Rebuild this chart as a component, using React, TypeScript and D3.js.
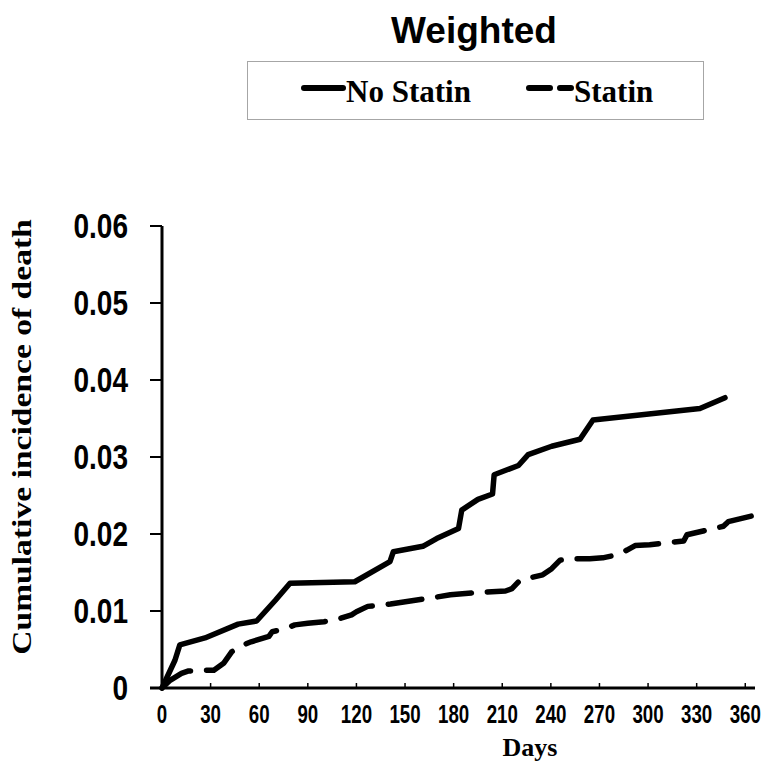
import React from "react";
import * as d3 from "d3";

const noStatinDays = [0, 8, 11, 26.5, 47, 58.4, 70, 79, 119, 140.7, 142.8, 161, 169.5, 183, 185, 195, 204, 205, 220, 226, 240.5, 258, 266, 332, 347.5];
const noStatinValues = [0, 0.0036, 0.0056, 0.0065, 0.0083, 0.0087, 0.0114, 0.0136, 0.0138, 0.0164, 0.0177, 0.0184, 0.0194, 0.0207, 0.0231, 0.0245, 0.0252, 0.0277, 0.0289, 0.0303, 0.0314, 0.0323, 0.0348, 0.0363, 0.0377];

const statinDays = [0, 5, 12, 16, 24, 32, 38, 43, 48, 55, 66, 68, 76, 82, 90, 100, 108, 117, 120, 127, 141, 163, 178, 194, 212, 216, 221, 235, 240.5, 245.7, 252, 264, 272, 278.6, 287, 292, 301, 309, 322, 324, 346.5, 349.5, 365];
const statinValues = [0, 0.001, 0.0019, 0.0022, 0.0023, 0.0023, 0.0032, 0.0047, 0.0054, 0.006, 0.0067, 0.0073, 0.0077, 0.0082, 0.0084, 0.0086, 0.0089, 0.0095, 0.0099, 0.0106, 0.0109, 0.0116, 0.0121, 0.0124, 0.0126, 0.0129, 0.014, 0.0147, 0.0155, 0.0166, 0.0168, 0.0168, 0.0169, 0.0172, 0.0179, 0.0185, 0.0186, 0.0188, 0.0191, 0.0199, 0.021, 0.0216, 0.0224];

const xTicks = [0, 30, 60, 90, 120, 150, 180, 210, 240, 270, 300, 330, 360];
const yTicks = [0, 0.01, 0.02, 0.03, 0.04, 0.05, 0.06];
const yTickLabels = ["0", "0.01", "0.02", "0.03", "0.04", "0.05", "0.06"];

const seriesNames = ["No Statin", "Statin"];
const title = "Weighted";
const xTitle = "Days";
const yTitle = "Cumulative incidence of death";

export default function App() {
  const x = d3.scaleLinear().domain([0, 366]).range([162, 755]);
  const y = d3.scaleLinear().domain([0, 0.06]).range([688, 226]);
  const line = d3
    .line<[number, number]>()
    .x((d) => x(d[0]))
    .y((d) => y(d[1]));
  const noStatin = noStatinDays.map((d, i) => [d, noStatinValues[i]] as [number, number]);
  const statin = statinDays.map((d, i) => [d, statinValues[i]] as [number, number]);
  const sans = "'Liberation Sans', Arial, sans-serif";
  const serif = "'Liberation Serif', 'Times New Roman', serif";

  return (
    <svg width={763} height={765} style={{ position: "absolute", left: 0, top: 0, background: "#fff" }}>
      <rect x={0} y={0} width={763} height={765} fill="#fff" />
      <text x={474} y={43} textAnchor="middle" fontFamily={sans} fontWeight="bold" fontSize={37}>
        {title}
      </text>
      <rect x={247.5} y={61.5} width={456} height={58} fill="#fff" stroke="#a6a6a6" strokeWidth={1} />
      <line x1={304} x2={343} y1={88} y2={88} stroke="#000" strokeWidth={6} strokeLinecap="round" />
      <text x={346} y={102} fontFamily={serif} fontWeight="bold" fontSize={31}>
        {seriesNames[0]}
      </text>
      <line x1={529} x2={571} y1={88} y2={88} stroke="#000" strokeWidth={6} strokeLinecap="round" strokeDasharray="21,10" />
      <text x={574} y={102} fontFamily={serif} fontWeight="bold" fontSize={31}>
        {seriesNames[1]}
      </text>

      {/* axes */}
      <line x1={162} x2={162} y1={226} y2={689.5} stroke="#000" strokeWidth={3} />
      <line x1={150} x2={755} y1={688} y2={688} stroke="#000" strokeWidth={3} />
      {yTicks.map((t, i) => (
        <g key={t}>
          <line x1={150} x2={162} y1={y(t)} y2={y(t)} stroke="#000" strokeWidth={2} />
          <text
            transform={`translate(128,${y(t) + 12}) scale(0.8,1)`}
            textAnchor="end"
            fontFamily={sans}
            fontWeight="bold"
            fontSize={35}
          >
            {yTickLabels[i]}
          </text>
        </g>
      ))}
      {xTicks.map((t) => (
        <g key={t}>
          {t > 0 && <line x1={x(t)} x2={x(t)} y1={688} y2={683} stroke="#000" strokeWidth={1.5} />}
          <text
            transform={`translate(${x(t)},723) scale(0.72,1)`}
            textAnchor="middle"
            fontFamily={sans}
            fontWeight="bold"
            fontSize={26}
          >
            {t}
          </text>
        </g>
      ))}
      <text x={530} y={756} textAnchor="middle" fontFamily={serif} fontWeight="bold" fontSize={26}>
        {xTitle}
      </text>
      <text
        transform="translate(31,437) rotate(-90) scale(1.2,1)"
        textAnchor="middle"
        fontFamily={serif}
        fontWeight="bold"
        fontSize={28}
      >
        {yTitle}
      </text>

      <path d={line(noStatin) || ""} fill="none" stroke="#000" strokeWidth={5.5} strokeLinejoin="round" strokeLinecap="round" />
      <path
        d={line(statin) || ""}
        fill="none"
        stroke="#000"
        strokeWidth={5.5}
        strokeLinejoin="round"
        strokeLinecap="round"
        strokeDasharray="34,16"
      />
    </svg>
  );
}
